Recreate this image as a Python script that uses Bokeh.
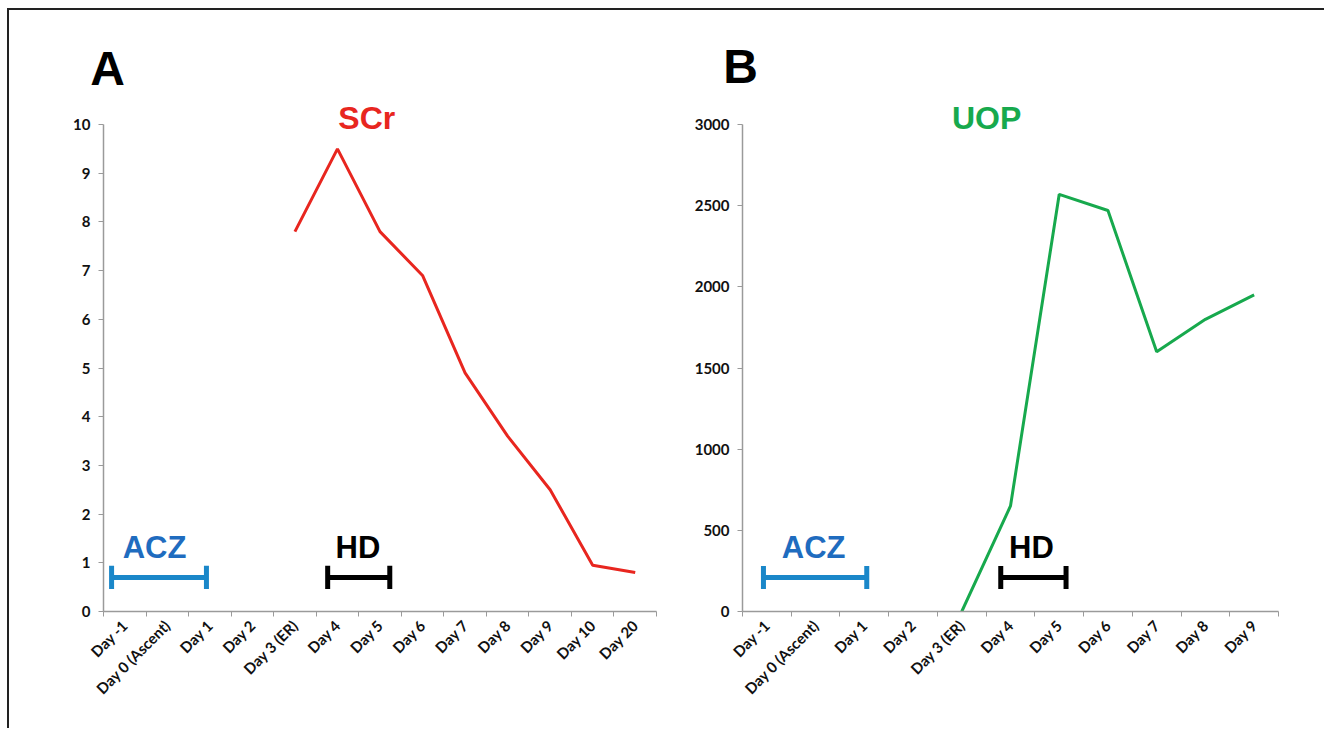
import math
from bokeh.plotting import figure
from bokeh.models import FixedTicker, Label, Range1d
from bokeh.layouts import row, column
from bokeh.embed import file_html
from bokeh.resources import INLINE

nan = float("nan")

# ---- data ----
days_a = ["Day -1", "Day 0 (Ascent)", "Day 1", "Day 2", "Day 3 (ER)", "Day 4",
          "Day 5", "Day 6", "Day 7", "Day 8", "Day 9", "Day 10", "Day 20"]
scr = [nan, nan, nan, nan, 7.8, 9.5, 7.8, 6.9, 4.9, 3.6, 2.5, 0.95, 0.8]
yticks_a = list(range(0, 11, 1))

days_b = ["Day -1", "Day 0 (Ascent)", "Day 1", "Day 2", "Day 3 (ER)", "Day 4",
          "Day 5", "Day 6", "Day 7", "Day 8", "Day 9"]
uop = [nan, nan, nan, nan, 0, 650, 2570, 2470, 1600, 1800, 1950]
yticks_b = list(range(0, 3001, 500))

# treatment intervals (in category-axis units) and level
acz_a = [0.19, 2.42]
hd_a = [5.27, 6.73]
bar_level_a = 0.7
acz_b = [0.43, 2.55]
hd_b = [5.3, 6.64]
bar_level_b = 210

RED = "#e8261f"
GREEN = "#17a94d"
BLUE_BAR = "#1a87c9"
BLUE_TXT = "#1f6cbf"
TICK_FONT = "Lato"
BIG_FONT = "Liberation Sans"

AXIS_H = 487      # pixel height of the 0..max axis
FRAME_H = 513     # frame extends above the axis to hold the titles


def make_panel(days, vals, yticks, color, title, acz, hd, level,
               frame_w, bl, br, title_pos, acz_txt, hd_txt, cap):
    n = len(days)
    ymax = yticks[-1]
    p = figure(frame_width=frame_w, frame_height=FRAME_H,
               x_range=Range1d(0, n), y_range=Range1d(0, ymax * FRAME_H / AXIS_H),
               min_border_left=bl, min_border_right=br,
               min_border_top=0, min_border_bottom=117,
               output_backend="svg", toolbar_location=None)
    p.outline_line_color = None
    p.grid.visible = False
    p.background_fill_color = "white"
    p.border_fill_color = "white"

    xs = [i + 0.5 for i in range(n)]
    p.line(xs, vals, line_color=color, line_width=3)

    # x axis
    xa = p.xaxis[0]
    xa.ticker = FixedTicker(ticks=xs, minor_ticks=list(range(n + 1)))
    xa.major_label_overrides = {x: d for x, d in zip(xs, days)}
    xa.major_tick_line_color = None
    xa.minor_tick_in = 0
    xa.minor_tick_out = 5
    xa.minor_tick_line_color = "#9a9a9a"
    xa.axis_line_color = "#9a9a9a"
    xa.axis_line_width = 1.5
    xa.major_label_orientation = math.pi / 4
    xa.major_label_text_font = TICK_FONT
    xa.major_label_text_font_style = "bold"
    xa.major_label_text_font_size = "15px"
    xa.major_label_text_color = "#111111"
    xa.major_label_standoff = 5

    ya = p.yaxis[0]
    ya.ticker = FixedTicker(ticks=yticks, minor_ticks=[])
    ya.bounds = (0, ymax)
    ya.major_tick_in = 0
    ya.major_tick_out = 5
    ya.major_tick_line_color = "#9a9a9a"
    ya.axis_line_color = "#9a9a9a"
    ya.axis_line_width = 1.5
    ya.major_label_text_font = TICK_FONT
    ya.major_label_text_font_style = "bold"
    ya.major_label_text_font_size = "15px"
    ya.major_label_text_color = "#111111"
    ya.major_label_standoff = 8

    # treatment bars
    for (x0, x1), c in ((acz, BLUE_BAR), (hd, "black")):
        p.segment(x0=[x0], y0=[level], x1=[x1], y1=[level], line_color=c, line_width=5)
        p.segment(x0=[x0, x1], y0=[level - cap] * 2, x1=[x0, x1], y1=[level + cap] * 2,
                  line_color=c, line_width=5)

    def lab(x, y, t, col, size):
        p.add_layout(Label(x=x, y=y, text=t, text_color=col, text_font=BIG_FONT,
                           text_font_style="bold", text_font_size=size,
                           text_align="center", text_baseline="middle"))

    lab(acz_txt[0], acz_txt[1], "ACZ", BLUE_TXT, "31px")
    lab(hd_txt[0], hd_txt[1], "HD", "black", "31px")
    lab(title_pos[0], title_pos[1], title, color, "32px")
    return p


p1 = make_panel(days_a, scr, yticks_a, RED, "SCr", acz_a, hd_a, bar_level_a,
                553, 94, 23, (6.19, 10.14), (1.2, 1.31), (5.98, 1.31), 0.24)
p2 = make_panel(days_b, uop, yticks_b, GREEN, "UOP", acz_b, hd_b, bar_level_b,
                536, 63, 46, (5.01, 3043), (1.46, 393), (5.93, 393), 71)

# header strip holding the panel letters (pixel coordinates)
HW, HH = 1315, 88
head = figure(width=HW, height=HH, x_range=Range1d(0, HW), y_range=Range1d(0, HH),
              x_axis_type=None, y_axis_type=None, min_border=0,
              output_backend="svg", toolbar_location=None)
head.outline_line_color = None
head.grid.visible = False
for x, y, t in ((98, 30, "A"), (731, 32, "B")):
    head.add_layout(Label(x=x, y=y, text=t, text_color="black", text_font=BIG_FONT,
                          text_font_style="bold", text_font_size="48px",
                          text_align="center", text_baseline="middle"))

layout = column(head, row(p1, p2),
                styles={"border-top": "2px solid #222", "border-left": "2px solid #222",
                        "margin-top": "8px", "margin-left": "7px"})
open("out.html", "w").write(file_html(layout, INLINE))
